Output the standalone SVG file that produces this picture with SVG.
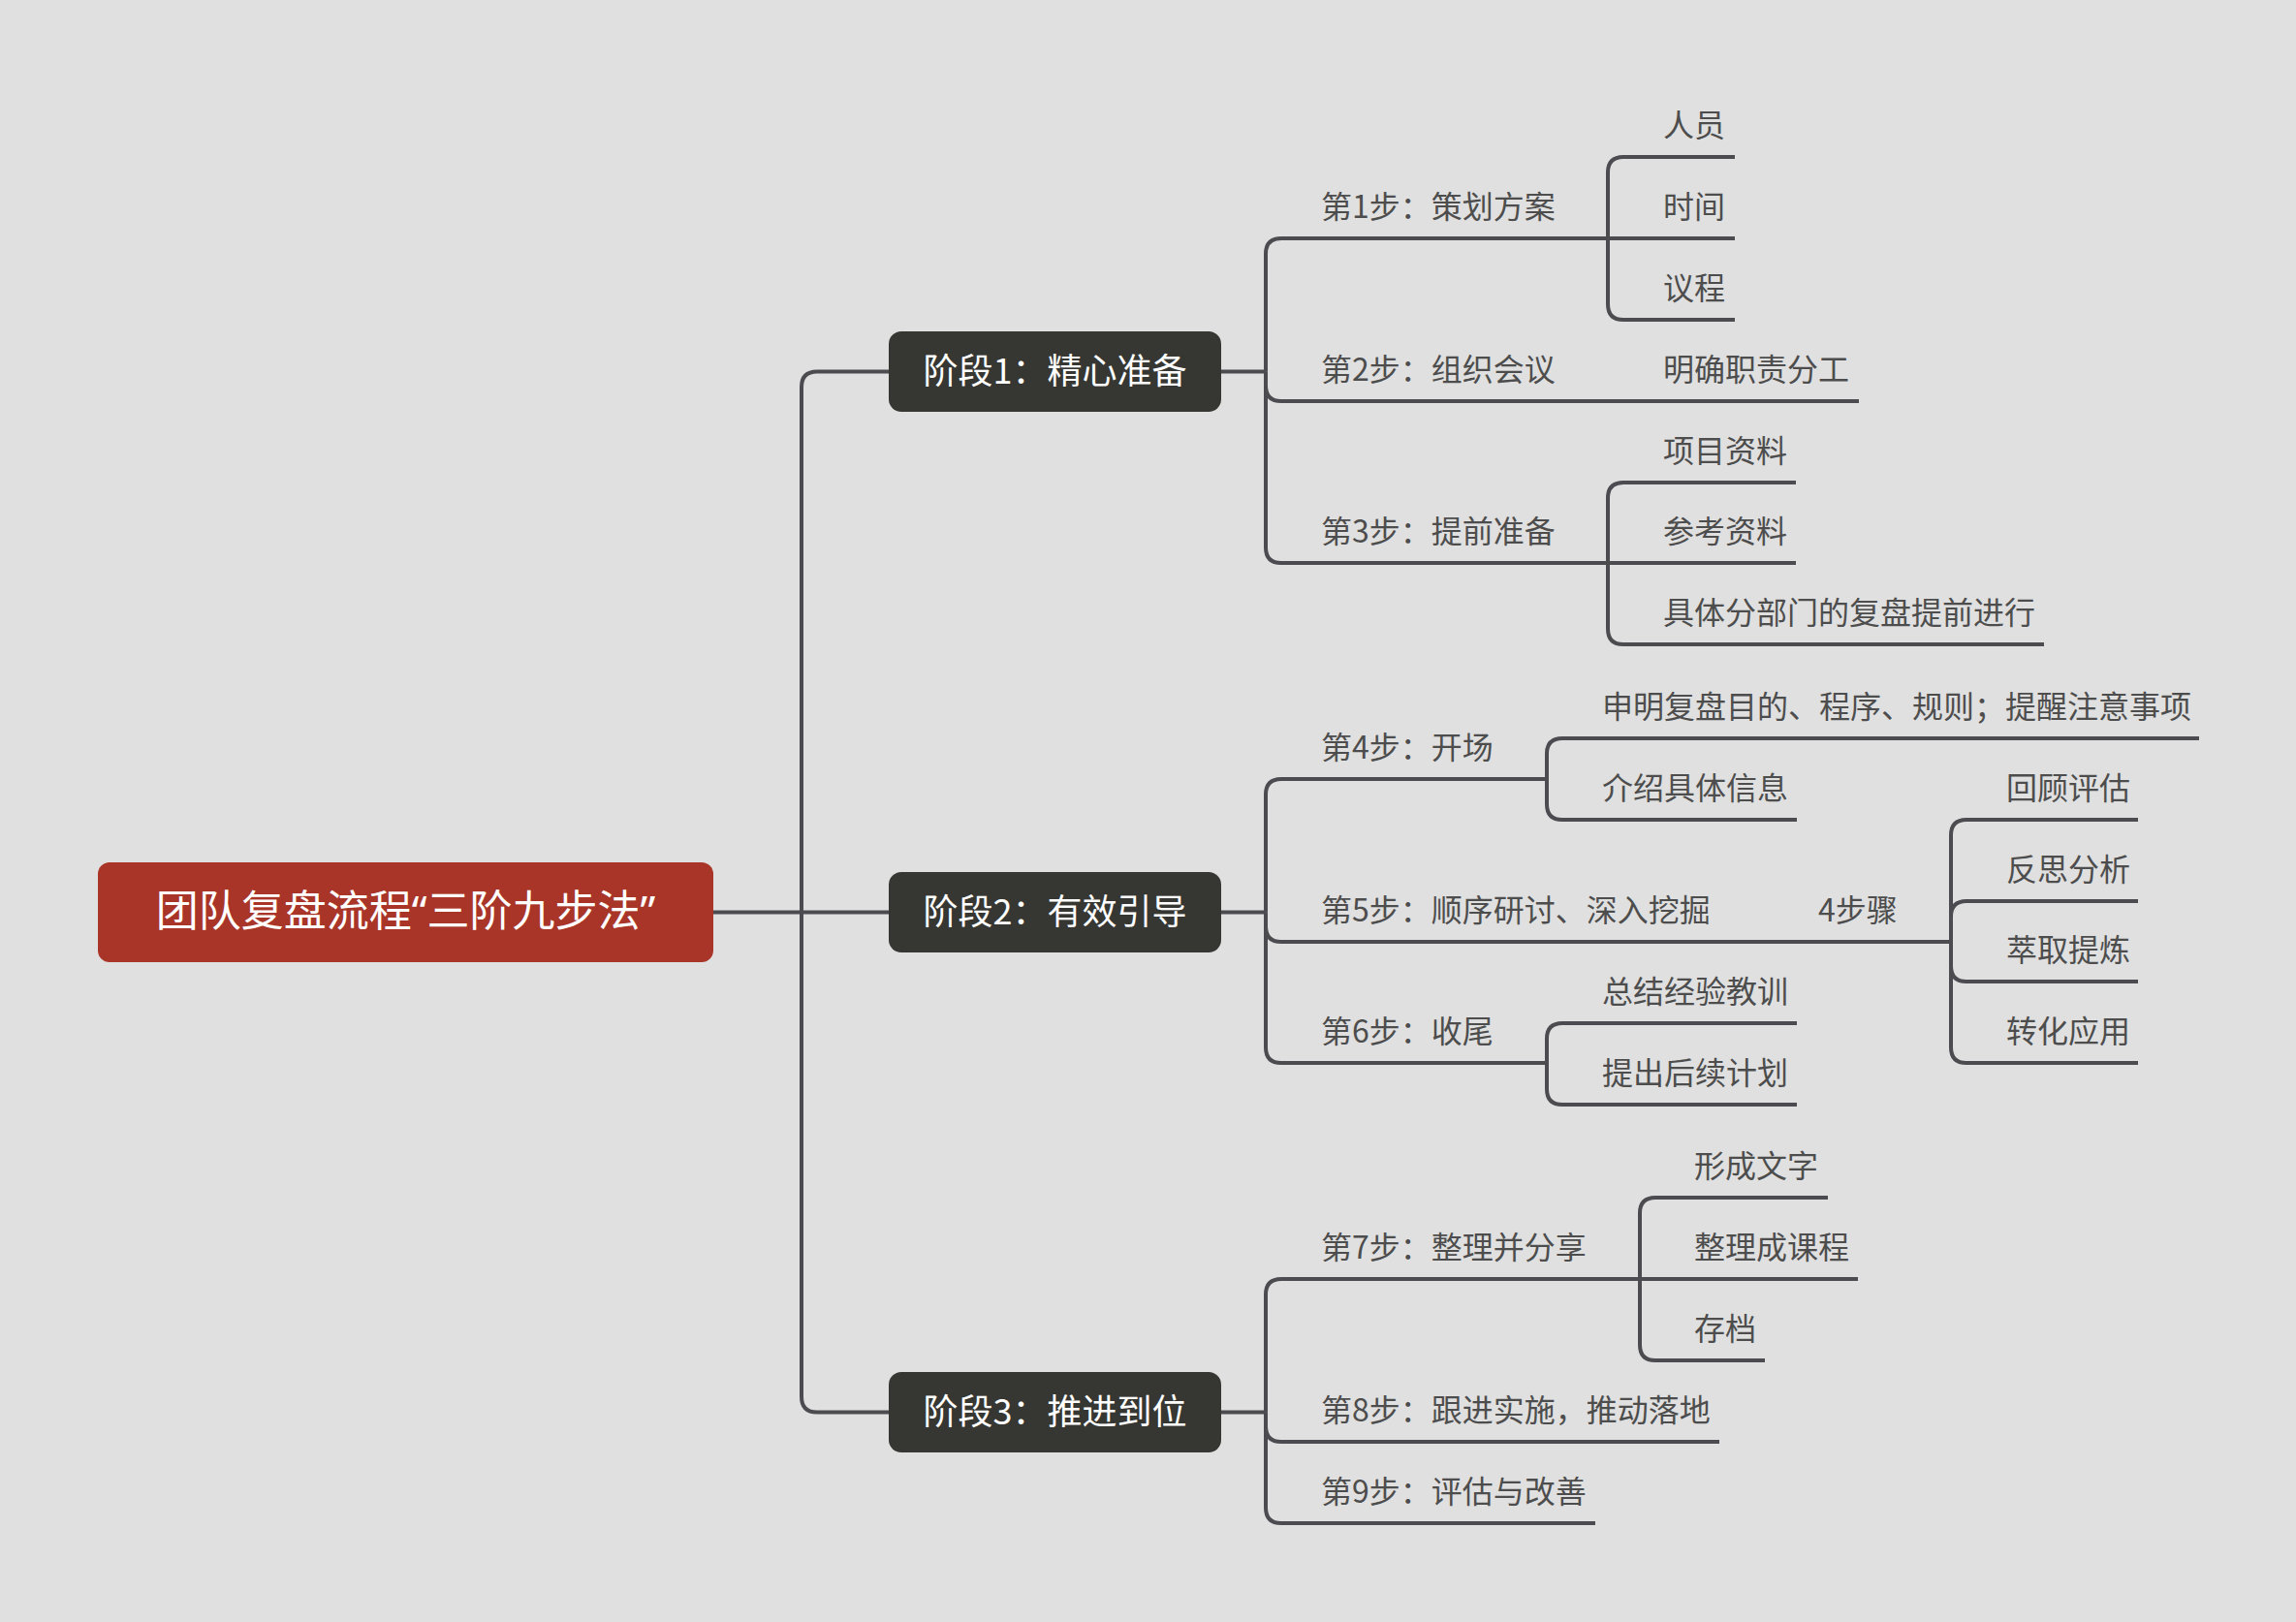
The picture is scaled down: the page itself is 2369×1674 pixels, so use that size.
<svg xmlns="http://www.w3.org/2000/svg" width="2369" height="1674" viewBox="0 0 2369 1674">
<style>
.bg{fill:#e0e0e0}
.c{fill:none;stroke:#4b4b50;stroke-width:4;stroke-linecap:butt}
.ul{stroke:#4b4b50;stroke-width:4}
.t{font-family:"Noto Sans CJK SC","Microsoft YaHei",sans-serif;font-size:32px;fill:#4d4d4d}
.st{fill:#363732}
.stt{font-family:"Noto Sans CJK SC","Microsoft YaHei",sans-serif;font-size:36px;fill:#ffffff;text-anchor:middle}
.rt{font-family:"Noto Sans CJK SC","Microsoft YaHei",sans-serif;font-size:44px;fill:#ffffff;text-anchor:middle}
.q{font-family:"Noto Sans","Liberation Sans",sans-serif}
</style>
<rect class="bg" x="0" y="0" width="2369" height="1674"/>
<g id="connectors">
<path class="c" d="M736,941.5 H917"/>
<path class="c" d="M827,941.5 V399.5 Q827,383.5 843,383.5 H917"/>
<path class="c" d="M827,941.5 V1441.5 Q827,1457.5 843,1457.5 H917"/>
<!-- stage 1 -->
<path class="c" d="M1260,383.5 H1306"/>
<path class="c" d="M1306,383.5 V262 Q1306,246 1322,246 H1350"/>
<path class="c" d="M1306,383.5 V398 Q1306,414 1322,414 H1350"/>
<path class="c" d="M1306,383.5 V565 Q1306,581 1322,581 H1350"/>
<path class="c" d="M1614,246 H1659"/>
<path class="c" d="M1659,246 V178 Q1659,162 1675,162 H1703"/>
<path class="c" d="M1659,246 H1703"/>
<path class="c" d="M1659,246 V314 Q1659,330 1675,330 H1703"/>
<path class="c" d="M1614,414 H1703"/>
<path class="c" d="M1614,581 H1659"/>
<path class="c" d="M1659,581 V514 Q1659,498 1675,498 H1703"/>
<path class="c" d="M1659,581 H1703"/>
<path class="c" d="M1659,581 V649 Q1659,665 1675,665 H1703"/>
<!-- stage 2 -->
<path class="c" d="M1260,941.5 H1306"/>
<path class="c" d="M1306,941.5 V820 Q1306,804 1322,804 H1350"/>
<path class="c" d="M1306,941.5 V956 Q1306,972 1322,972 H1350"/>
<path class="c" d="M1306,941.5 V1081 Q1306,1097 1322,1097 H1350"/>
<path class="c" d="M1553,804 H1596"/>
<path class="c" d="M1596,804 V778 Q1596,762 1612,762 H1640"/>
<path class="c" d="M1596,804 V830 Q1596,846 1612,846 H1640"/>
<path class="c" d="M1775,972 H1863"/>
<path class="c" d="M1970,972 H2013"/>
<path class="c" d="M2013,972 V862 Q2013,846 2029,846 H2057"/>
<path class="c" d="M2013,972 V946 Q2013,930 2029,930 H2057"/>
<path class="c" d="M2013,972 V997 Q2013,1013 2029,1013 H2057"/>
<path class="c" d="M2013,972 V1081 Q2013,1097 2029,1097 H2057"/>
<path class="c" d="M1553,1097 H1596"/>
<path class="c" d="M1596,1097 V1072 Q1596,1056 1612,1056 H1640"/>
<path class="c" d="M1596,1097 V1124 Q1596,1140 1612,1140 H1640"/>
<!-- stage 3 -->
<path class="c" d="M1260,1457.5 H1306"/>
<path class="c" d="M1306,1457.5 V1336 Q1306,1320 1322,1320 H1350"/>
<path class="c" d="M1306,1457.5 V1472 Q1306,1488 1322,1488 H1350"/>
<path class="c" d="M1306,1457.5 V1556 Q1306,1572 1322,1572 H1350"/>
<path class="c" d="M1648,1320 H1692"/>
<path class="c" d="M1692,1320 V1252 Q1692,1236 1708,1236 H1735"/>
<path class="c" d="M1692,1320 H1735"/>
<path class="c" d="M1692,1320 V1388 Q1692,1404 1708,1404 H1735"/>
</g>
<g id="root">
<rect x="101" y="890" width="635" height="103" rx="12" fill="#a83528"/>
<text class="rt" x="418.5" y="956">团队复盘流程<tspan class="q">“</tspan>三阶九步法<tspan class="q">”</tspan></text>
</g>
<g id="stage1">
<rect class="st" x="917" y="342" width="343" height="83" rx="13"/>
<text class="stt" x="1088.5" y="396">阶段1：精心准备</text>
</g>
<g id="stage2">
<rect class="st" x="917" y="900" width="343" height="83" rx="13"/>
<text class="stt" x="1088.5" y="954">阶段2：有效引导</text>
</g>
<g id="stage3">
<rect class="st" x="917" y="1416" width="343" height="83" rx="13"/>
<text class="stt" x="1088.5" y="1470">阶段3：推进到位</text>
</g>
<g id="step1"><line class="ul" x1="1350" y1="246" x2="1614" y2="246"/><text class="t" x="1363" y="225">第1步：策划方案</text></g>
<g id="s1-renyuan"><line class="ul" x1="1703" y1="162" x2="1790" y2="162"/><text class="t" x="1716" y="141">人员</text></g>
<g id="s1-shijian"><line class="ul" x1="1703" y1="246" x2="1790" y2="246"/><text class="t" x="1716" y="225">时间</text></g>
<g id="s1-yicheng"><line class="ul" x1="1703" y1="330" x2="1790" y2="330"/><text class="t" x="1716" y="309">议程</text></g>
<g id="step2"><line class="ul" x1="1350" y1="414" x2="1614" y2="414"/><text class="t" x="1363" y="393">第2步：组织会议</text></g>
<g id="s2-zhize"><line class="ul" x1="1703" y1="414" x2="1918" y2="414"/><text class="t" x="1716" y="393">明确职责分工</text></g>
<g id="step3"><line class="ul" x1="1350" y1="581" x2="1614" y2="581"/><text class="t" x="1363" y="560">第3步：提前准备</text></g>
<g id="s3-xiangmu"><line class="ul" x1="1703" y1="498" x2="1853" y2="498"/><text class="t" x="1716" y="477">项目资料</text></g>
<g id="s3-cankao"><line class="ul" x1="1703" y1="581" x2="1853" y2="581"/><text class="t" x="1716" y="560">参考资料</text></g>
<g id="s3-juti"><line class="ul" x1="1703" y1="665" x2="2109" y2="665"/><text class="t" x="1716" y="644">具体分部门的复盘提前进行</text></g>
<g id="step4"><line class="ul" x1="1350" y1="804" x2="1553" y2="804"/><text class="t" x="1363" y="783">第4步：开场</text></g>
<g id="s4-shenming"><line class="ul" x1="1640" y1="762" x2="2269" y2="762"/><text class="t" x="1653" y="741">申明复盘目的、程序、规则；提醒注意事项</text></g>
<g id="s4-jieshao"><line class="ul" x1="1640" y1="846" x2="1854" y2="846"/><text class="t" x="1653" y="825">介绍具体信息</text></g>
<g id="step5"><line class="ul" x1="1350" y1="972" x2="1775" y2="972"/><text class="t" x="1363" y="951">第5步：顺序研讨、深入挖掘</text></g>
<g id="s5-4buzhou"><line class="ul" x1="1863" y1="972" x2="1970" y2="972"/><text class="t" x="1876" y="951">4步骤</text></g>
<g id="s5-huigu"><line class="ul" x1="2057" y1="846" x2="2206" y2="846"/><text class="t" x="2070" y="825">回顾评估</text></g>
<g id="s5-fansi"><line class="ul" x1="2057" y1="930" x2="2206" y2="930"/><text class="t" x="2070" y="909">反思分析</text></g>
<g id="s5-cuiqu"><line class="ul" x1="2057" y1="1013" x2="2206" y2="1013"/><text class="t" x="2070" y="992">萃取提炼</text></g>
<g id="s5-zhuanhua"><line class="ul" x1="2057" y1="1097" x2="2206" y2="1097"/><text class="t" x="2070" y="1076">转化应用</text></g>
<g id="step6"><line class="ul" x1="1350" y1="1097" x2="1553" y2="1097"/><text class="t" x="1363" y="1076">第6步：收尾</text></g>
<g id="s6-zongjie"><line class="ul" x1="1640" y1="1056" x2="1854" y2="1056"/><text class="t" x="1653" y="1035">总结经验教训</text></g>
<g id="s6-tichu"><line class="ul" x1="1640" y1="1140" x2="1854" y2="1140"/><text class="t" x="1653" y="1119">提出后续计划</text></g>
<g id="step7"><line class="ul" x1="1350" y1="1320" x2="1648" y2="1320"/><text class="t" x="1363" y="1299">第7步：整理并分享</text></g>
<g id="s7-wenzi"><line class="ul" x1="1735" y1="1236" x2="1886" y2="1236"/><text class="t" x="1748" y="1215">形成文字</text></g>
<g id="s7-kecheng"><line class="ul" x1="1735" y1="1320" x2="1917" y2="1320"/><text class="t" x="1748" y="1299">整理成课程</text></g>
<g id="s7-cundang"><line class="ul" x1="1735" y1="1404" x2="1821" y2="1404"/><text class="t" x="1748" y="1383">存档</text></g>
<g id="step8"><line class="ul" x1="1350" y1="1488" x2="1774" y2="1488"/><text class="t" x="1363" y="1467">第8步：跟进实施，推动落地</text></g>
<g id="step9"><line class="ul" x1="1350" y1="1572" x2="1646" y2="1572"/><text class="t" x="1363" y="1551">第9步：评估与改善</text></g>
</svg>
